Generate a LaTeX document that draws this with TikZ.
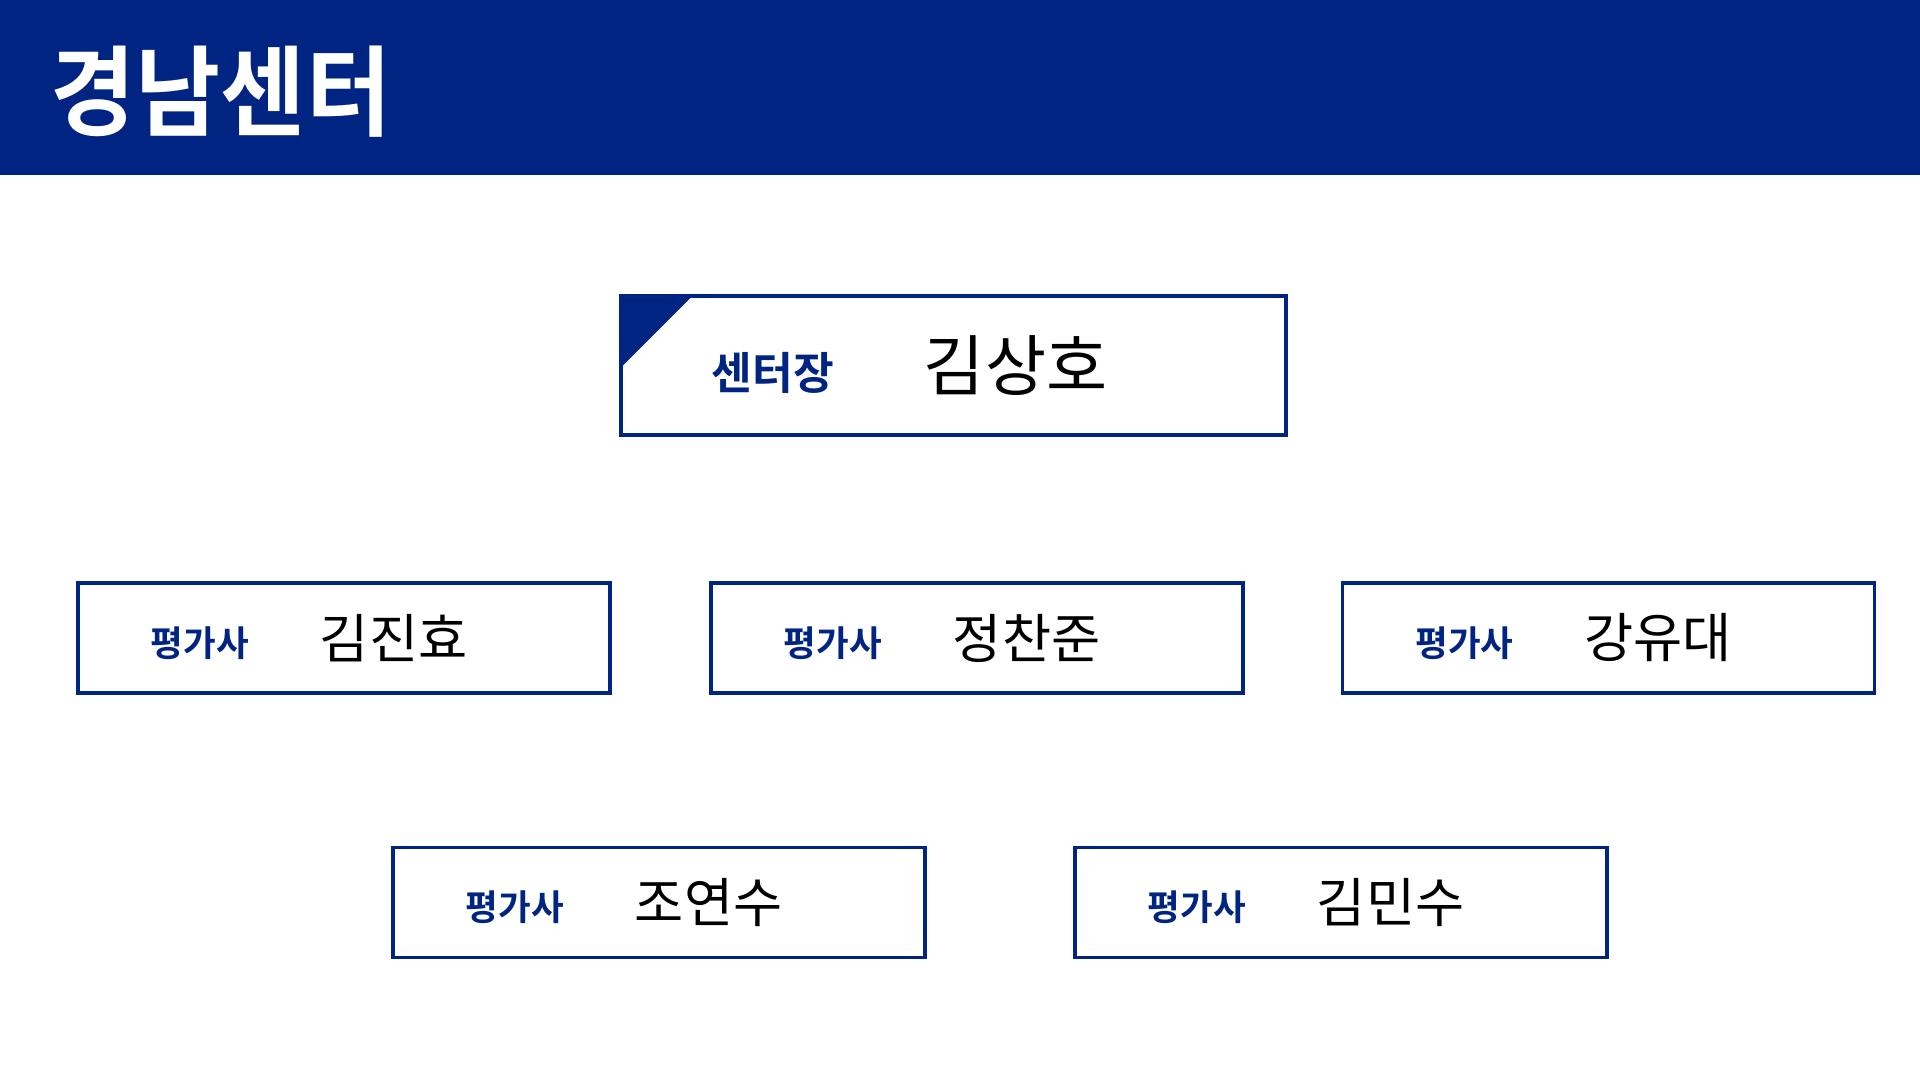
\documentclass[tikz,border=0pt]{standalone}
\usepackage{fontspec}
\usepackage{graphicx}
\newfontfamily\krfont{Noto Sans CJK KR}
\newfontfamily\krbold{Noto Sans CJK KR Bold}
\usetikzlibrary{positioning}

\definecolor{navy}{RGB}{0,36,129}

\tikzset{
  box/.style={draw=navy, line width=1pt, fill=white, minimum width=5.32cm, minimum height=1.10cm},
  rolelabel/.style={inner sep=0pt, anchor=west, text=navy, font=\krbold\fontsize{10.1}{11}\selectfont},
  namelabel/.style={inner sep=0pt, anchor=west, text=black, font=\krfont\fontsize{15.2}{16}\selectfont}
}

\begin{document}
\begin{tikzpicture}

            \useasboundingbox (0,0) rectangle (19.2,10.8);

            % header bar:
            \fill[navy] (0,9.05) rectangle (19.2,10.8);
            \node[anchor=west, inner sep=0pt, text=white, font=\krbold\fontsize{28}{30}\selectfont] (title) at (0.50,9.88) {\scalebox{0.94}[1]{경남센터}};

            % head of centre:
            \node[box, minimum width=6.65cm, minimum height=1.39cm] (head) at (9.535,7.145) {};
            \fill[navy] (head.north west) -- ++(0.75,0) -- ++(-0.75,-0.75) -- cycle;
            \node[rolelabel, font=\krbold\fontsize{12.6}{13}\selectfont, right=0.92cm of head.west, yshift=-0.07cm] (headrole) {센터장};
            \node[namelabel, font=\krfont\fontsize{18.9}{19}\selectfont, right=3.04cm of head.west] (headname) {김상호};

            % evaluators, first row:
            \node[box] (evalA) at (3.44,4.42) {};
            \node[box] (evalB) at (9.77,4.42) {};
            \node[box] (evalC) at (16.085,4.42) {};

            % evaluators, second row:
            \node[box] (evalD) at (6.59,1.775) {};
            \node[box] (evalE) at (13.41,1.775) {};

            %labels
            \node[rolelabel, right=0.74cm of evalA.west, yshift=-0.05cm] (roleA) {평가사};
            \node[namelabel, right=2.43cm of evalA.west] (nameA) {김진효};
            \node[rolelabel, right=0.74cm of evalB.west, yshift=-0.05cm] (roleB) {평가사};
            \node[namelabel, right=2.43cm of evalB.west] (nameB) {정찬준};
            \node[rolelabel, right=0.74cm of evalC.west, yshift=-0.05cm] (roleC) {평가사};
            \node[namelabel, right=2.43cm of evalC.west] (nameC) {강유대};
            \node[rolelabel, right=0.74cm of evalD.west, yshift=-0.05cm] (roleD) {평가사};
            \node[namelabel, right=2.43cm of evalD.west] (nameD) {조연수};
            \node[rolelabel, right=0.74cm of evalE.west, yshift=-0.05cm] (roleE) {평가사};
            \node[namelabel, right=2.43cm of evalE.west] (nameE) {김민수};
        \end{tikzpicture}
\end{document}
